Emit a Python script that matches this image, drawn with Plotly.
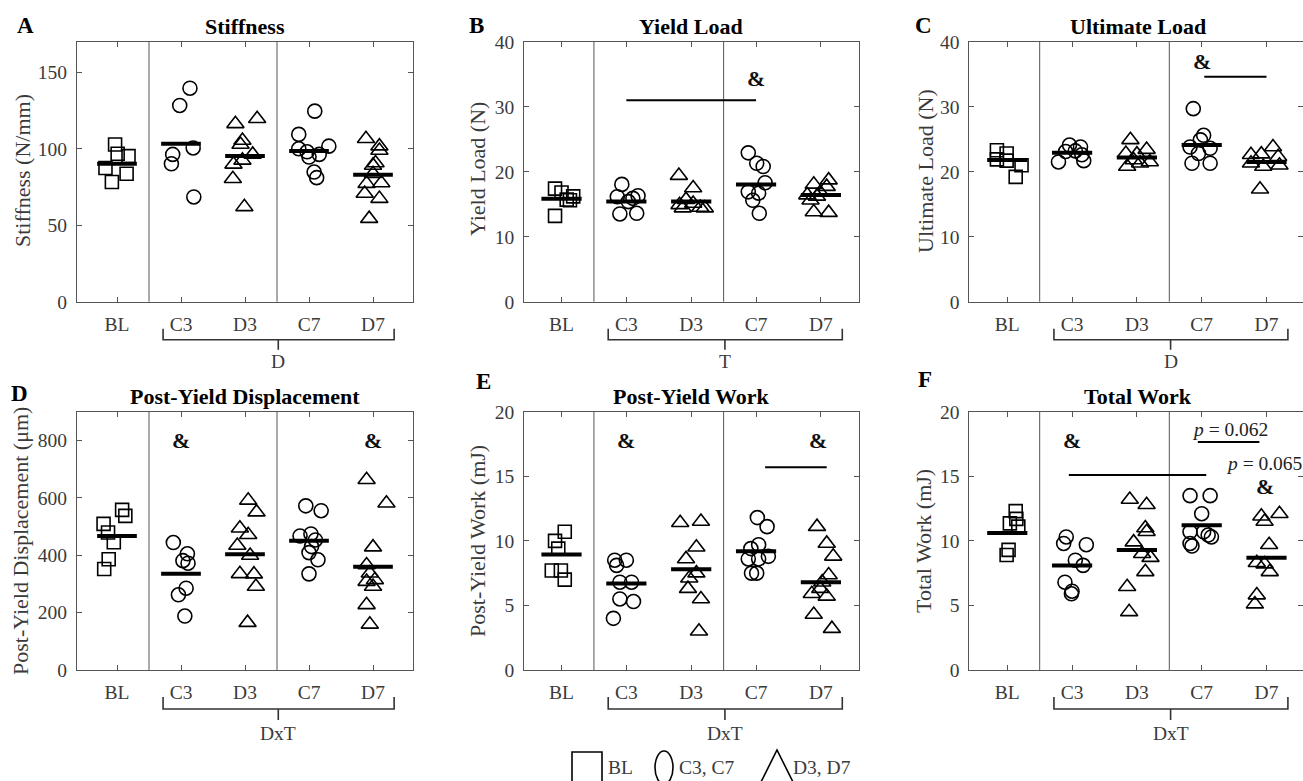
import plotly.graph_objects as go

W, H = 1303, 781
FONT = "Liberation Serif"
GRAY = "#555555"
TXT = "#3a3a3a"

CATS = ["BL", "C3", "D3", "C7", "D7"]
SYMS = ["square-open", "circle-open", "triangle-up-open", "circle-open", "triangle-up-open"]
SIZES = [13, 14, 15, 14, 15]

# ---------------- data ----------------
A_X = [[0.97, 1.01, 1.18, 0.82, 1.15, 0.92],
       [2.14, 1.98, 1.87, 1.85, 2.19, 2.2],
       [2.85, 3.19, 2.96, 2.93, 2.82, 2.81, 3.12, 2.96, 2.99],
       [4.09, 3.84, 3.84, 4.0, 4.31, 4.16, 4.08, 4.12, 3.97],
       [4.89, 5.1, 5.1, 5.04, 5.0, 4.9, 5.13, 4.87, 5.1, 4.94, 5.0]]
A_Y = [[102.8, 96.7, 95.2, 87.4, 83.7, 78.3],
       [139.6, 128.3, 96.3, 90.2, 100.5, 68.5],
       [116.3, 119.6, 105.4, 102.8, 89.8, 80.4, 96.3, 92.4, 62.0],
       [124.6, 109.4, 100, 94.6, 101.7, 96.3, 84.8, 81.1, 98],
       [106.5, 101.7, 98.9, 90.7, 89.1, 77.2, 77.6, 70.7, 67.4, 54.3, 83.7]]
A_MEAN = [90.2, 103.3, 95.2, 98.5, 83.0]

B_X = [[0.9, 1.0, 1.18, 1.08, 0.9, 1.13],
       [1.93, 1.86, 2.18, 2.03, 1.9, 2.16, 2.1],
       [2.81, 3.03, 2.92, 2.82, 3.14, 3.21, 3.03, 2.87],
       [3.88, 4.01, 4.11, 4.14, 3.88, 4.04, 3.95, 4.05],
       [4.89, 5.12, 5.09, 4.79, 4.84, 4.94, 4.89, 5.12, 4.99]]
B_Y = [[17.4, 16.8, 16.2, 15.7, 13.2, 15.6],
       [18.05, 16.15, 16.3, 15.4, 13.5, 13.6, 15.9],
       [19.4, 17.5, 15.7, 14.9, 14.5, 14.4, 15.1, 14.4],
       [22.9, 21.3, 20.8, 18.3, 16.9, 16.7, 15.6, 13.6],
       [18.05, 18.7, 17.7, 16.4, 15.6, 16.2, 13.8, 13.7, 16.8]]
B_MEAN = [15.85, 15.4, 15.4, 18.05, 16.4]

C_X = [[0.84, 0.99, 0.84, 0.99, 1.22, 1.13],
       [1.96, 2.13, 1.9, 2.15, 1.79, 2.18, 2.05],
       [2.9, 3.15, 2.83, 3.0, 2.95, 2.85, 3.2, 3.05],
       [3.87, 4.03, 3.98, 3.82, 4.13, 3.95, 3.85, 4.13],
       [5.1, 4.92, 4.76, 5.18, 4.95, 5.2, 4.76, 4.9]]
C_Y = [[23.3, 22.8, 21.9, 21.7, 21.0, 19.2],
       [24.1, 23.8, 23.1, 22.6, 21.5, 21.7, 23.2],
       [24.9, 23.4, 22.8, 22.7, 21.8, 20.8, 21.5, 21.3],
       [29.7, 25.6, 24.9, 23.8, 23.6, 22.8, 21.3, 21.3],
       [23.8, 22.7, 22.6, 22.3, 20.8, 21.0, 21.3, 17.3]]
C_MEAN = [21.8, 22.9, 22.2, 24.1, 21.5]

D_X = [[0.79, 0.86, 0.95, 1.08, 1.13, 0.87, 0.8],
       [1.88, 2.1, 2.03, 2.11, 2.08, 1.96, 2.06],
       [3.05, 3.18, 2.92, 3.05, 2.88, 3.08, 2.92, 3.14, 3.17, 3.04],
       [3.95, 4.19, 3.86, 4.03, 4.1, 4.04, 4.0, 4.14, 4.0],
       [4.9, 5.21, 5.0, 4.9, 4.95, 5.03, 4.9, 5.0, 4.9, 4.95]]
D_Y = [[509, 479, 445, 558, 537, 386, 352],
       [444, 405, 381, 372, 285, 262, 188],
       [591, 550, 494, 471, 434, 399, 335, 334, 291, 165],
       [572, 555, 467, 474, 453, 430, 409, 384, 335],
       [663, 581, 428, 366, 337, 314, 308, 291, 227, 159]]
D_MEAN = [467, 335, 403, 450, 360]

E_X = [[1.05, 0.9, 0.95, 0.85, 0.99, 1.05],
       [1.82, 2.0, 1.85, 1.9, 2.08, 1.9, 2.11, 1.8],
       [2.83, 3.15, 3.08, 2.92, 2.97, 3.08, 2.95, 3.15, 3.12],
       [4.02, 4.17, 4.04, 3.92, 4.19, 3.88, 4.04, 4.01, 3.93],
       [4.94, 5.09, 5.19, 5.12, 5.02, 4.86, 5.09, 4.99, 4.89, 5.17]]
E_Y = [[10.7, 10.0, 9.4, 7.7, 7.7, 7.0],
       [8.5, 8.5, 8.1, 6.8, 6.8, 5.5, 5.3, 4.0],
       [11.4, 11.5, 9.5, 8.6, 7.1, 7.5, 6.3, 5.5, 3.0],
       [11.8, 11.1, 9.7, 9.4, 8.8, 8.6, 8.6, 7.5, 7.5],
       [11.1, 9.8, 8.8, 7.35, 6.8, 5.9, 5.7, 6.3, 4.3, 3.2]]
E_MEAN = [8.95, 6.7, 7.8, 9.2, 6.8]

F_X = [[1.13, 1.04, 1.14, 1.17, 1.02, 0.99],
       [1.91, 1.87, 2.22, 2.05, 2.17, 1.89, 2.0, 1.99],
       [2.89, 3.15, 3.13, 3.15, 2.95, 3.08, 3.21, 3.13, 2.85, 2.88],
       [3.82, 4.13, 4.0, 3.82, 4.03, 4.1, 4.15, 3.82, 3.85],
       [5.2, 4.92, 4.97, 5.04, 4.85, 4.97, 5.05, 4.85, 4.82]]
F_Y = [[12.3, 11.35, 11.7, 11.1, 9.3, 8.9],
       [10.3, 9.8, 9.7, 8.5, 8.1, 6.8, 6.1, 5.9],
       [13.2, 12.8, 11.0, 10.7, 9.9, 9.0, 8.7, 7.6, 6.45, 4.5],
       [13.5, 13.5, 12.1, 10.7, 10.7, 10.45, 10.3, 9.8, 9.6],
       [12.1, 11.9, 11.5, 9.7, 8.3, 8.2, 7.6, 5.8, 5.1]]
F_MEAN = [10.6, 8.1, 9.3, 11.2, 8.7]

TITLES = ["Stiffness", "Yield Load", "Ultimate Load",
          "Post-Yield Displacement", "Post-Yield Work", "Total Work"]
LETTERS = ["A", "B", "C", "D", "E", "F"]
YTITLES = ["Stiffness (N/mm)", "Yield Load (N)", "Ultimate Load (N)",
           "Post-Yield Displacement (\u03bcm)", "Post-Yield Work (mJ)", "Total Work (mJ)"]
YRANGES = [[0, 170], [0, 40], [0, 40], [0, 900], [0, 20], [0, 20]]
YTICKS = [[0, 50, 100, 150], [0, 10, 20, 30, 40], [0, 10, 20, 30, 40],
          [0, 200, 400, 600, 800], [0, 5, 10, 15, 20], [0, 5, 10, 15, 20]]
BRACKET_LABELS = ["D", "T", "D", "DxT", "DxT", "DxT"]

# significance marks: "&" positions and bar lines [x0, x1, y]
AMP = [[], [(4.0, 34.4)], [(4.0, 36.9)], [(2.0, 801), (5.0, 801)],
       [(2.0, 17.8), (4.95, 17.8)], [(2.0, 17.8), (4.98, 14.2)]]
BARS = [[], [(2.0, 4.0, 31.0)], [(4.04, 5.0, 34.6)], [],
        [(4.14, 5.09, 15.7)], [(1.95, 4.07, 15.1), (3.94, 4.89, 17.65)]]
PTEXT = [[], [], [], [], [], [(4.44, 18.6, "<i>p</i> = 0.062"), (4.96, 16.0, "<i>p</i> = 0.065")]]

PANEL_X = [A_X, B_X, C_X, D_X, E_X, F_X]
PANEL_Y = [A_Y, B_Y, C_Y, D_Y, E_Y, F_Y]
PANEL_MEAN = [A_MEAN, B_MEAN, C_MEAN, D_MEAN, E_MEAN, F_MEAN]

# ---------------- layout geometry (pixels) ----------------
COLS = [(77.0, 413.0, [0.375, 5.625]), (524.1, 858.5, [0.423, 5.58]), (969.3, 1303.0, [0.414, 5.563])]
TITLE_CX = [245, 691, 1137.5]
ROWS = [(41.7, 301.7), (411.7, 670.0)]
LETTER_POS = [(25, 25), (476, 25), (924, 25), (19, 393), (483, 381), (925, 379)]
YTITLE_POS = [(22, 171), (477, 169), (925, 171), (20, 541), (477, 541), (923, 541)]

fig = go.Figure()
shapes = []
annotations = []


def fx(p):
    return p / W


def fy(p):
    return 1 - p / H


def ann(**kw):
    d = dict(showarrow=False, xanchor="center", yanchor="middle")
    d.update(kw)
    annotations.append(d)


for i in range(6):
    r, c = divmod(i, 3)
    x0p, x1p, xr = COLS[c]
    y0p, y1p = ROWS[r]
    n = "" if i == 0 else str(i + 1)
    xa, ya = "x" + n, "y" + n
    axkw = dict(showline=True, linecolor=GRAY, linewidth=1, mirror="ticks",
                ticks="inside", ticklen=5, tickcolor=GRAY, tickwidth=1,
                showgrid=False, zeroline=False, automargin=False,
                tickfont=dict(family=FONT, size=19.5, color=TXT))
    fig.update_layout(**{
        ("xaxis" + n): dict(domain=[fx(x0p), fx(x1p)], range=xr, anchor=ya,
                            tickvals=[1, 2, 3, 4, 5], ticktext=CATS,
                            ticklabelstandoff=5, **axkw),
        ("yaxis" + n): dict(domain=[fy(y1p), fy(y0p)], range=YRANGES[i], anchor=xa,
                            tickvals=YTICKS[i], ticklabelstandoff=5, **axkw),
    })
    # points
    for g in range(5):
        fig.add_trace(go.Scatter(
            x=PANEL_X[i][g], y=PANEL_Y[i][g], mode="markers", xaxis=xa, yaxis=ya,
            marker=dict(symbol=SYMS[g], size=SIZES[g], color="black", line=dict(width=1.6)),
            showlegend=False, hoverinfo="skip"))
    # mean bars
    for g in range(5):
        m = PANEL_MEAN[i][g]
        fig.add_trace(go.Scatter(
            x=[g + 1 - 0.31, g + 1 + 0.31], y=[m, m], mode="lines", xaxis=xa, yaxis=ya,
            line=dict(color="black", width=4), showlegend=False, hoverinfo="skip"))
    # separators
    for sx in (1.5, 3.5):
        shapes.append(dict(type="line", xref=xa, yref=ya + " domain", x0=sx, x1=sx, y0=0, y1=1,
                           line=dict(color=GRAY, width=1)))
    # significance bars
    for (bx0, bx1, by) in BARS[i]:
        shapes.append(dict(type="line", xref=xa, yref=ya, x0=bx0, x1=bx1, y0=by, y1=by,
                           line=dict(color="black", width=2)))
    for (ax_, ay_) in AMP[i]:
        ann(xref=xa, yref=ya, x=ax_, y=ay_, text="<b>&amp;</b>",
            font=dict(family=FONT, size=22, color="#111"))
    for (tx, ty, tt) in PTEXT[i]:
        ann(xref=xa, yref=ya, x=tx, y=ty, text=tt, font=dict(family=FONT, size=19.5, color="#222"))
    # bracket below categories C3..D7
    hpx = y1p - y0p
    if r == 0:
        o1, o2, o3, ot = 27, 38, 48, 60
    else:
        o1, o2, o3, ot = 27, 39, 50, 63
    a, b_, cc = -o1 / hpx, -o2 / hpx, -o3 / hpx
    path = (f"M 1.72,{a} L 1.72,{b_} L 5.33,{b_} L 5.33,{a} "
            f"M 3.52,{b_} L 3.52,{cc}")
    shapes.append(dict(type="path", xref=xa, yref=ya + " domain", path=path,
                       line=dict(color="#333", width=1.6)))
    ann(xref=xa, yref=ya + " domain", x=3.52, y=-ot / hpx, text=BRACKET_LABELS[i],
        font=dict(family=FONT, size=19.5, color=TXT))
    # title
    ann(xref="paper", yref="paper", x=fx(TITLE_CX[c]), y=fy(y0p - 15), text="<b>" + TITLES[i] + "</b>",
        font=dict(family=FONT, size=22, color="black"))
    # panel letter
    lx, ly = LETTER_POS[i]
    ann(xref="paper", yref="paper", x=fx(lx), y=fy(ly), text="<b>" + LETTERS[i] + "</b>",
        font=dict(family=FONT, size=23, color="black"))
    # y title
    tx_, ty_ = YTITLE_POS[i]
    ann(xref="paper", yref="paper", x=fx(tx_), y=fy(ty_), text=YTITLES[i], textangle=-90,
        font=dict(family=FONT, size=22, color=TXT))

# legend (drawn as in the figure)
shapes.append(dict(type="rect", xref="paper", yref="paper", x0=fx(572), x1=fx(602), y0=fy(752), y1=fy(800),
                   line=dict(color="black", width=1.6)))
shapes.append(dict(type="circle", xref="paper", yref="paper", x0=fx(655), x1=fx(673), y0=fy(751), y1=fy(784),
                   line=dict(color="black", width=1.6)))
shapes.append(dict(type="path", xref="paper", yref="paper",
                   path=f"M {fx(757)},{fy(790)} L {fx(777)},{fy(750)} L {fx(797)},{fy(790)}",
                   line=dict(color="black", width=1.6)))
LEG_TEXT = [("BL", 620), ("C3, C7", 707), ("D3, D7", 822)]
for t, xpos in LEG_TEXT:
    ann(xref="paper", yref="paper", x=fx(xpos), y=fy(767), text=t,
        font=dict(family=FONT, size=19.5, color=TXT))

fig.update_layout(width=W, height=H, margin=dict(l=0, r=0, t=0, b=0, autoexpand=False),
                  paper_bgcolor="white", plot_bgcolor="white",
                  shapes=shapes, annotations=annotations, showlegend=False)
fig.write_html("out.html")
